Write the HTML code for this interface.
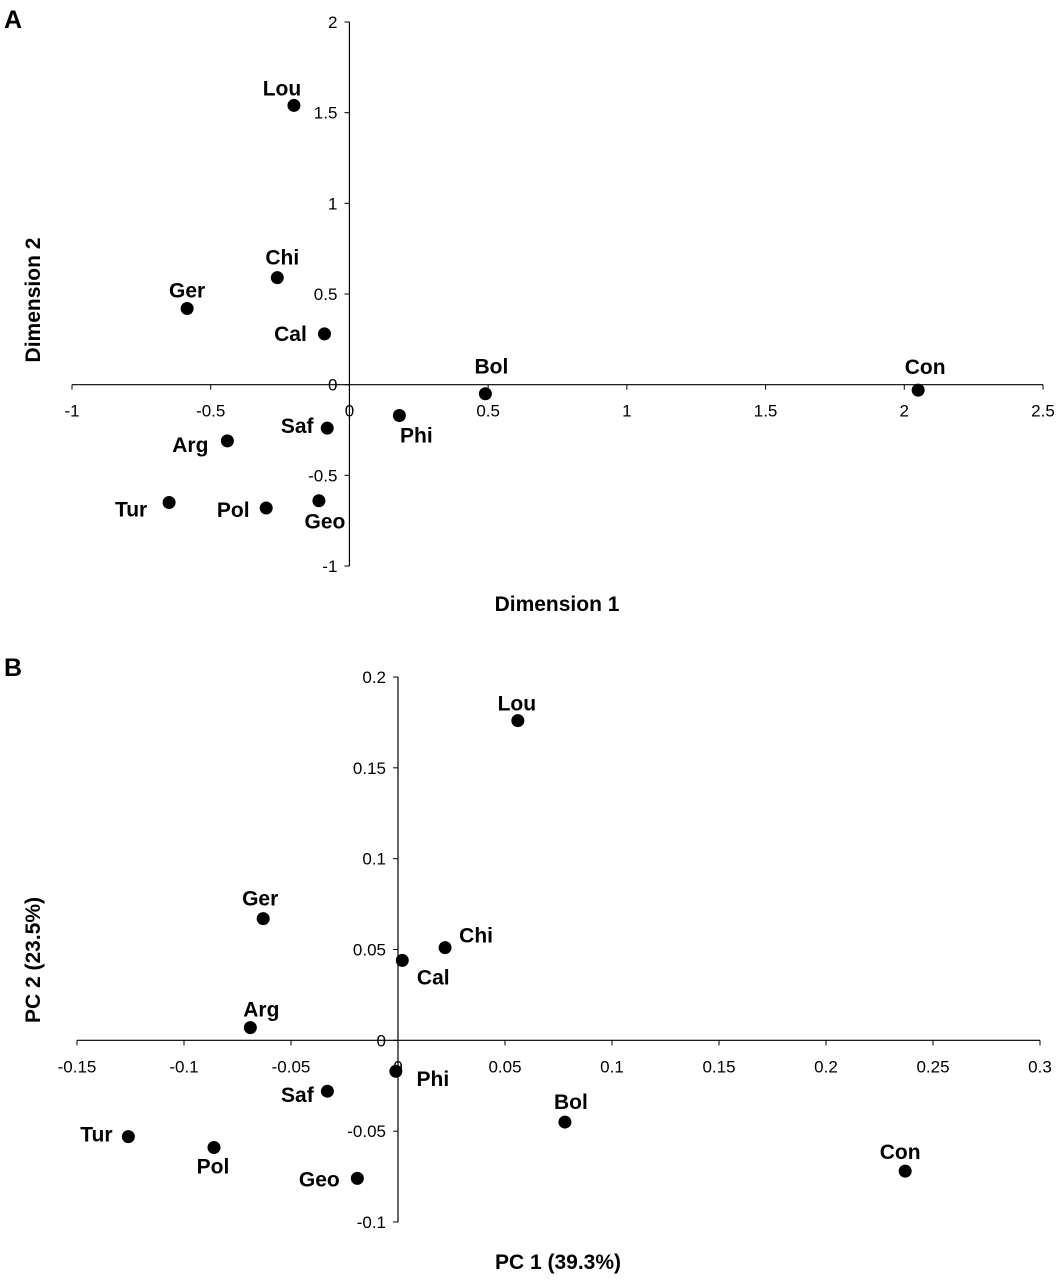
<!DOCTYPE html>
<html><head><meta charset="utf-8"><style>
body{margin:0;background:#fff}
svg{display:block;font-family:"Liberation Sans",sans-serif}
.tk{font-size:17px;fill:#000}
.pl{font-size:21px;font-weight:bold;fill:#000}
.at{font-size:21px;font-weight:bold;fill:#000}
</style></head><body>
<svg id="chart" width="1058" height="1280" viewBox="0 0 1058 1280">
<text x="4" y="28" font-size="25" font-weight="bold">A</text>
<text x="4" y="676" font-size="25" font-weight="bold">B</text>
<text class="at" x="557" y="611" text-anchor="middle">Dimension 1</text>
<text class="at" transform="translate(40,300) rotate(-90)" text-anchor="middle">Dimension 2</text>
<text class="at" x="558" y="1269" text-anchor="middle">PC 1 (39.3%)</text>
<text class="at" transform="translate(40,960) rotate(-90)" text-anchor="middle">PC 2 (23.5%)</text>
</svg>
<script>
const labels = ["Lou","Chi","Ger","Cal","Bol","Con","Phi","Saf","Arg","Tur","Pol","Geo"];
const dim1 = [-0.20,-0.26,-0.585,-0.09,0.49,2.05,0.18,-0.08,-0.44,-0.65,-0.30,-0.11];
const dim2 = [1.54,0.59,0.42,0.28,-0.05,-0.03,-0.17,-0.24,-0.31,-0.65,-0.68,-0.64];
const pc1 = [0.056,0.022,-0.063,0.002,0.078,0.237,-0.001,-0.033,-0.069,-0.126,-0.086,-0.019];
const pc2 = [0.176,0.051,0.067,0.044,-0.045,-0.072,-0.017,-0.028,0.007,-0.053,-0.059,-0.076];
const aXTicks = [-1,-0.5,0,0.5,1,1.5,2,2.5];
const aYTicks = [-1,-0.5,0,0.5,1,1.5,2];
const aXTickLabels = ["-1","-0.5","0","0.5","1","1.5","2","2.5"];
const aYTickLabels = ["-1","-0.5","0","0.5","1","1.5","2"];
const bXTicks = [-0.15,-0.1,-0.05,0,0.05,0.1,0.15,0.2,0.25,0.3];
const bYTicks = [-0.1,-0.05,0,0.05,0.1,0.15,0.2];
const bXTickLabels = ["-0.15","-0.1","-0.05","0","0.05","0.1","0.15","0.2","0.25","0.3"];
const bYTickLabels = ["-0.1","-0.05","0","0.05","0.1","0.15","0.2"];
// label offsets (layout)
const offA = [[-12,-17],[5,-20],[0,-18],[-34,0],[6,-27],[7,-23],[17,20],[-30,-2],[-37,4],[-38,7],[-33,2],[6,21]];
const offB = [[-1,-17],[31,-12],[-3,-20],[31,17],[6,-20],[-5,-19],[37,8],[-30,4],[11,-18],[-32,-2],[-1,19],[-38,1]];
const NS="http://www.w3.org/2000/svg";
const svg=document.getElementById('chart');
function mk(tag,attrs,txt){const e=document.createElementNS(NS,tag);for(const k in attrs)e.setAttribute(k,attrs[k]);if(txt!==undefined)e.textContent=txt;svg.appendChild(e);return e;}
function panel(p,xs,ys,xt,xtl,yt,ytl,x0,x1,px0,px1,y0,y1,py0,py1,off){
  const sx=v=>px0+(v-x0)/(x1-x0)*(px1-px0);
  const sy=v=>py0+(v-y0)/(y1-y0)*(py1-py0);
  const ax=sx(0), ay=sy(0);
  let e=mk('line',{x1:sx(x0),x2:sx(x1),y1:ay,y2:ay,stroke:'#000','stroke-width':1.2});
  
  
  e=mk('line',{x1:ax,x2:ax,y1:sy(y0),y2:sy(y1),stroke:'#000','stroke-width':1.2});
  
  
  xt.forEach((v,i)=>{
    mk('line',{x1:sx(v),x2:sx(v),y1:ay,y2:ay+5,stroke:'#000'});
    e=mk('text',{class:'tk',x:sx(v),y:ay+32,'text-anchor':'middle'},xtl[i]);
    
    
  });
  yt.forEach((v,i)=>{
    mk('line',{x1:ax-5,x2:ax,y1:sy(v),y2:sy(v),stroke:'#000'});
    e=mk('text',{class:'tk',x:ax-12,y:sy(v)+6,'text-anchor':'end'},ytl[i]);
    
    
  });
  xs.forEach((v,i)=>{
    const cx=sx(v), cy=sy(ys[i]);
    e=mk('circle',{cx:cx,cy:cy,r:6.5,fill:'#000'});
    
    
    e=mk('text',{class:'pl',x:cx+off[i][0],y:cy+off[i][1]+7,'text-anchor':'middle'},labels[i]);
    
    
  });
}
panel('panel-a',dim1,dim2,aXTicks,aXTickLabels,aYTicks,aYTickLabels,-1,2.5,72,1043,-1,2,566,22,offA);
panel('panel-b',pc1,pc2,bXTicks,bXTickLabels,bYTicks,bYTickLabels,-0.15,0.3,77,1040,-0.1,0.2,1222,677,offB);
</script>
</body></html>
